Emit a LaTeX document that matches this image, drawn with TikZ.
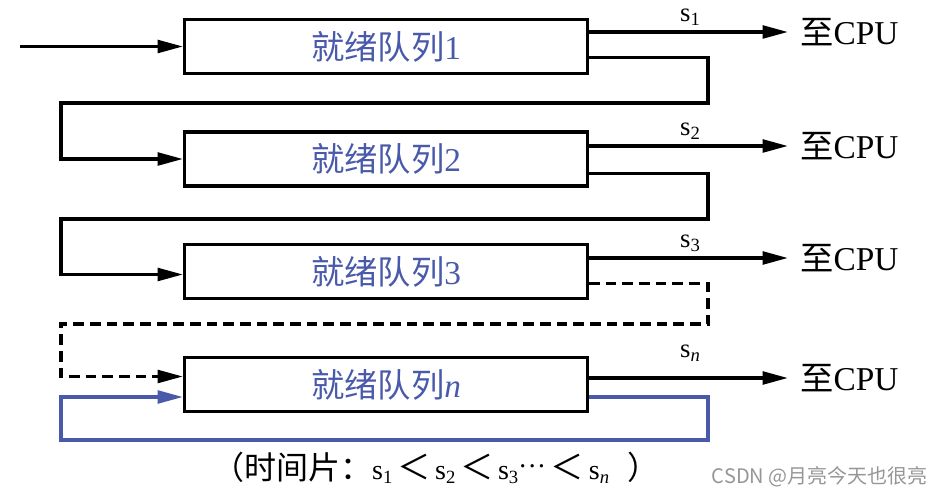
\documentclass[tikz,border=0pt]{standalone}
\usepackage{fontspec}
\setmainfont{Liberation Serif}
\newfontfamily\cjk{Noto Sans CJK SC}
\usetikzlibrary{arrows.meta,calc}
\definecolor{qblue}{RGB}{74,90,170}
\definecolor{wmgray}{RGB}{150,150,150}
\newcommand{\subs}[1]{\raisebox{-0.3ex}{\fontsize{14}{14}\selectfont #1}}
\newcommand{\capS}[1]{{\fontsize{21}{21}\selectfont s\subs{#1}}}
\newcommand{\capLt}{\hspace{3.5pt}{\cjk\fontsize{25}{25}\selectfont ＜}\hspace{3.5pt}}
\newcommand{\capDots}{{\fontsize{21}{21}\selectfont\raisebox{0.35ex}{\textperiodcentered\textperiodcentered\textperiodcentered}}}
\begin{document}
\begin{tikzpicture}[x=0.75pt,y=-0.75pt,
  queue/.style={draw=black,line width=2.5pt,minimum width=302pt,minimum height=40.5pt,inner sep=0pt,text=qblue,font=\fontsize{25}{25}\selectfont},
  flow/.style={line width=2.5pt,-{Triangle[length=19pt,width=9.5pt]}},
  cpu/.style={anchor=west,inner sep=0pt,font=\fontsize{25}{25}\selectfont},
  slab/.style={inner sep=0pt,font=\fontsize{20}{20}\selectfont},
  note/.style={inner sep=0pt,font=\fontsize{24}{24}\selectfont},
  wmark/.style={inner sep=0pt,text=wmgray,font=\cjk\fontsize{15}{15}\selectfont}
]
\useasboundingbox (0,0) rectangle (932,495);

\node[queue] (q1) at (386,46.5) {{\cjk 就绪队列}1};
\node[queue] (q2) at (386,159) {{\cjk 就绪队列}2};
\node[queue] (q3) at (386,271.5) {{\cjk 就绪队列}3};
\node[queue] (q4) at (386,384.5) {{\cjk 就绪队列}\textit{n}};

% input
\coordinate (in) at (20,46.5);
\draw[flow] (in) -- (q1.west);

% to CPU
\node[cpu] (t1) at (800,32) {{\cjk 至}CPU};
\node[cpu] (t2) at (800,146) {{\cjk 至}CPU};
\node[cpu] (t3) at (800,258) {{\cjk 至}CPU};
\node[cpu] (t4) at (800,378) {{\cjk 至}CPU};
\draw[flow] (q1.east |- t1.west) -- ($(t1.west)+(-12,0)$);
\draw[flow] (q2.east |- t2.west) -- ($(t2.west)+(-12,0)$);
\draw[flow] (q3.east |- t3.west) -- ($(t3.west)+(-12,0)$);
\draw[flow] (q4.east |- t4.west) -- ($(t4.west)+(-12,0)$);

\node[slab] (s1) at (690,17) {s\subs{1}};
\node[slab] (s2) at (690,131) {s\subs{2}};
\node[slab] (s3) at (690,243) {s\subs{3}};
\node[slab] (s4) at (690,353) {s\subs{\textit{n}}};

% feedback loops
\draw[flow] ($(q1.north east)+(0,40)$) -| (708,103) -| ($(q2.west)+(-122,0)$) -- (q2.west);
\draw[flow] ($(q2.north east)+(0,43)$) -| (708,219) -| ($(q3.west)+(-122,3)$) -- ($(q3.west)+(0,3)$);
\draw[flow,dash pattern=on 8pt off 4.5pt] ($(q3.north east)+(0,41)$) -| (708,324) -| ($(q4.west)+(-122,-8)$) -- ($(q4.west)+(0,-8)$);
\draw[flow,color=qblue] ($(q4.east)+(0,12.5)$) -| (708,440) -| ($(q4.west)+(-122,12.5)$) -- ($(q4.west)+(0,12.5)$);

% caption
\node[note] (cap) at (436,468) {{\cjk （时间片：}\capS{1}\capLt\capS{2}\capLt\capS{3}\capDots\capLt\capS{\textit{n}}\hspace{14pt}{\cjk ）}};
\node[wmark,anchor=east] (wm) at (928,477) {CSDN @月亮今天也很亮};
\end{tikzpicture}
\end{document}
